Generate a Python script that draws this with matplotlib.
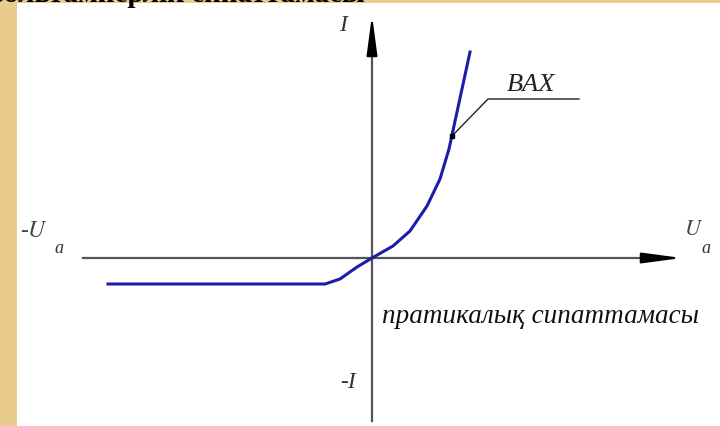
import matplotlib.pyplot as plt
from matplotlib.patches import Rectangle

# current-voltage characteristic (U in arbitrary units, I in arbitrary units)
U = [-26.4, -4.7, -3.2, -1.5, 0.0, 2.1, 3.8, 5.5, 6.8, 7.7, 9.8]
I = [-2.6, -2.6, -2.1, -0.9, 0.0, 1.2, 2.7, 5.2, 7.9, 10.9, 20.6]

# leader line for the curve label
leader_U = [8.0, 11.6, 20.7]
leader_I = [12.2, 15.9, 15.9]

title = "Диодтың вольтамперлік сипаттамасы"
curve_label = "BAX"
note = "пратикалық сипаттамасы"

W, H, DPI = 720, 427, 100
fig = plt.figure(figsize=(W / DPI, H / DPI), dpi=DPI, facecolor="#EACB8D")

# white sheet over the beige backdrop
fig.add_artist(Rectangle((17 / W, 0), 1 - 17 / W, (H - 4) / H,
                         transform=fig.transFigure, facecolor="white",
                         edgecolor="none", zorder=0))

ax = fig.add_axes([0, 0, 1, 1])
ax.patch.set_visible(False)
ax.set_xlim(-37.2, 34.8)
ax.set_ylim(-16.8, 25.9)
ax.axis("off")

axis_col = "#555555"
# horizontal and vertical axes
ax.plot([-28.9, 28.5], [0, 0], color=axis_col, lw=1.6, zorder=2)
ax.plot([0, 0], [-16.3, 21.5], color=axis_col, lw=1.6, zorder=2)
head = "-|>,head_length=2.4,head_width=0.32"
ax.annotate("", xy=(31.0, 0), xytext=(28.0, 0),
            arrowprops=dict(arrowstyle=head, color="black", lw=1.5,
                            shrinkA=0, shrinkB=0, mutation_scale=10), zorder=3)
ax.annotate("", xy=(0, 24.3), xytext=(0, 21.0),
            arrowprops=dict(arrowstyle=head, color="black", lw=1.5,
                            shrinkA=0, shrinkB=0, mutation_scale=10), zorder=3)

# the curve
ax.plot(U, I, color="#1C1CA8", lw=2.2, solid_joinstyle="round", zorder=4)

# label leader
ax.plot(leader_U, leader_I, color="#222222", lw=1.0, zorder=3)
ax.plot(leader_U[0], leader_I[0], marker="s", ms=3.5, color="black", zorder=5)

serif = "Liberation Serif"
ax.text(15.9, 16.3, curve_label, family=serif, style="italic", fontsize=19,
        color="#222222", va="bottom", ha="center")
ax.text(-2.9, 23.4, "I", family=serif, style="italic", fontsize=17,
        color="#333333", ha="center", va="center")
ax.text(-2.4, -12.4, "-I", family=serif, style="italic", fontsize=17,
        color="#333333", ha="center", va="center")
ax.text(-35.2, 2.7, r"-$U$", family=serif, fontsize=17, color="#444444",
        ha="left", va="center", math_fontfamily="stix")
ax.text(-31.8, 1.0, "a", family=serif, style="italic", fontsize=13,
        color="#333333", ha="left", va="center")
ax.text(31.2, 3.0, r"$U$", fontsize=16, color="#444444",
        ha="left", va="center", math_fontfamily="stix")
ax.text(32.9, 1.0, "a", family=serif, style="italic", fontsize=13,
        color="#333333", ha="left", va="center")
ax.text(1.0, -5.8, note, family=serif, style="italic", fontsize=19.5,
        color="#111111", ha="left", va="center")

# title, mostly cut off by the top edge
fig.text(365 / W, 1 - 2 / H, title, family=serif, weight="bold", fontsize=21,
         color="black", ha="right", va="baseline")

fig.savefig("out.png", dpi=DPI, facecolor=fig.get_facecolor())
